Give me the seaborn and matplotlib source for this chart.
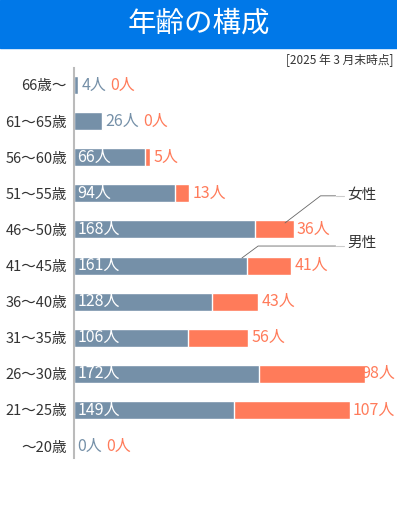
import numpy as np
import pandas as pd
import seaborn as sns
import matplotlib.pyplot as plt
from matplotlib.patches import Rectangle

sns.set_style("white")
plt.rcParams['font.family'] = ['Noto Sans CJK JP', 'DejaVu Sans']

age_groups = ["66歳〜", "61〜65歳", "56〜60歳", "51〜55歳", "46〜50歳", "41〜45歳",
              "36〜40歳", "31〜35歳", "26〜30歳", "21〜25歳", "〜20歳"]
male = [4, 26, 66, 94, 168, 161, 128, 106, 172, 149, 0]
female = [0, 0, 5, 13, 36, 41, 43, 56, 98, 107, 0]

male_color = "#7590a8"
female_color = "#ff7b5a"
header_color = "#0078e8"

df = pd.DataFrame({"age": age_groups, "male": male, "female": female})
df["total"] = df["male"] + df["female"]

fig = plt.figure(figsize=(3.97, 5.31), dpi=100)
fig.patches.append(Rectangle((0, (531 - 48) / 531), 1, 48 / 531, transform=fig.transFigure,
                             color=header_color, zorder=0))
fig.text(0.5, 1 - 24 / 531, "年齢の構成", color="white", fontsize=20.5, ha="center", va="center")
fig.text(393 / 397, 1 - 60 / 531, "[2025 年 3 月末時点]", color="#333333", fontsize=8.5,
         ha="right", va="center")

ax = fig.add_axes([74 / 397, 73 / 531, 1 - 74 / 397, 390 / 531])
sns.barplot(data=df, y="age", x="total", orient="h", color=female_color, width=0.5,
            saturation=1, ax=ax)
sns.barplot(data=df, y="age", x="male", orient="h", color=male_color, width=0.5,
            saturation=1, ax=ax)

ax.set_xlim(0, 300)
ax.set_ylim(10.33, -0.47)
ax.set_xlabel("")
ax.set_ylabel("")
ax.set_xticks([])
for s in ["top", "right", "bottom"]:
    ax.spines[s].set_visible(False)
ax.spines["left"].set_color("#bbbbbb")
ax.spines["left"].set_linewidth(1.5)
ax.tick_params(axis="y", length=0, pad=5, labelsize=10.5, labelcolor="#333333")

fig.canvas.draw()
renderer = fig.canvas.get_renderer()
inv = ax.transData.inverted()
lab_size = 11.5
fig_w = fig.bbox.width

for i, row in df.iterrows():
    m, f = row["male"], row["female"]
    if m >= 50:
        ax.text(3, i, f"{m}人", color="white", fontsize=lab_size, va="center", ha="left")
        f_x = m + f + 3
    else:
        t = ax.text(m + 3, i, f"{m}人", color=male_color, fontsize=lab_size, va="center", ha="left")
        bb = t.get_window_extent(renderer)
        f_x = inv.transform((bb.x1 + 4, 0))[0]
    if f > 0:
        f_x = m + f + 3
    t = ax.text(f_x, i, f"{f}人", color=female_color, fontsize=lab_size, va="center", ha="left")
    bb = t.get_window_extent(renderer)
    if bb.x1 > fig_w - 2:
        # keep the label inside the figure, as the original does
        t.set_x(inv.transform((bb.x0 - (bb.x1 - fig_w + 2), 0))[0])

# legend callouts
ax.plot([196, 229, 243], [3.82, 3.07, 3.07], color="#666666", lw=0.6)
ax.plot([243, 251], [3.07, 3.07], color="#cccccc", lw=0.8)
ax.text(254, 3.05, "女性", color="#333333", fontsize=10.5, va="center", ha="left")
ax.plot([156, 171, 243], [4.79, 4.46, 4.46], color="#666666", lw=0.6)
ax.plot([243, 251], [4.46, 4.46], color="#cccccc", lw=0.8)
ax.text(254, 4.38, "男性", color="#333333", fontsize=10.5, va="center", ha="left")

fig.savefig("out.png", dpi=100)
